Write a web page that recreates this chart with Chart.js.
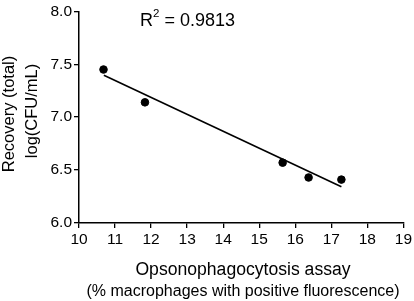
<!DOCTYPE html>
<html>
<head>
<meta charset="utf-8">
<script src="https://cdn.jsdelivr.net/npm/chart.js@4/dist/chart.umd.min.js"></script>
<style>
  html, body { margin: 0; padding: 0; background: #fff; }
  #wrap { width: 414px; height: 301px; }
</style>
</head>
<body>
<div id="wrap"><canvas id="myScatter" width="414" height="301"></canvas></div>
<script>
// values
var assayPct = [10.68, 11.83, 15.65, 16.37, 17.28];
var recoveryLog = [7.45, 7.14, 6.57, 6.43, 6.41];
var fitX = [10.69, 17.28];
var fitY = [7.395, 6.343];
var xTicks = [10, 11, 12, 13, 14, 15, 16, 17, 18, 19];
var yTicks = [6.0, 6.5, 7.0, 7.5, 8.0];
var rSquared = '0.9813';

var FONT = "'Liberation Sans', Arial, sans-serif";

var pontos = assayPct.map(function (x, i) { return { x: x, y: recoveryLog[i] }; });
var reta = fitX.map(function (x, i) { return { x: x, y: fitY[i] }; });

// titulos dos eixos e o R2 desenhados na mao
var textos = {
  id: 'textos',
  afterDraw: function (chart) {
    var ctx = chart.ctx;
    ctx.save();
    ctx.fillStyle = '#000';
    ctx.textBaseline = 'middle';
    ctx.textAlign = 'center';

    ctx.font = '17.6px ' + FONT;
    ctx.fillText('Opsonophagocytosis assay', 243, 270);
    ctx.font = '16px ' + FONT;
    ctx.fillText('(% macrophages with positive fluorescence)', 243, 292);

    ctx.save();
    ctx.translate(9, 114);
    ctx.rotate(-Math.PI / 2);
    ctx.font = '16.5px ' + FONT;
    ctx.fillText('Recovery (total)', 0, 0);
    ctx.restore();
    ctx.save();
    ctx.translate(32, 111);
    ctx.rotate(-Math.PI / 2);
    ctx.font = '16.5px ' + FONT;
    ctx.fillText('log(CFU/mL)', 0, 0);
    ctx.restore();

    // R^2
    ctx.textAlign = 'left';
    ctx.font = '18px ' + FONT;
    var x0 = 140;
    ctx.fillText('R', x0, 21);
    var wR = ctx.measureText('R').width;
    ctx.font = '11.5px ' + FONT;
    ctx.fillText('2', x0 + wR, 14);
    var w2 = ctx.measureText('2').width;
    ctx.font = '18px ' + FONT;
    ctx.fillText(' = ' + rSquared, x0 + wR + w2, 21);
    ctx.restore();
  }
};

var ctx = document.getElementById('myScatter').getContext('2d');
var grafico = new Chart(ctx, {
  type: 'scatter',
  data: {
    datasets: [
      {
        label: 'dados',
        data: pontos,
        backgroundColor: '#000',
        borderColor: '#000',
        pointRadius: 3.8,
        pointHoverRadius: 3.8
      },
      {
        label: 'ajuste',
        type: 'line',
        data: reta,
        borderColor: '#000',
        borderWidth: 1.6,
        pointRadius: 0,
        fill: false
      }
    ]
  },
  options: {
    responsive: false,
    animation: false,
    layout: { padding: { left: 0, top: 6, right: 8, bottom: 0 } },
    plugins: { legend: { display: false }, tooltip: { enabled: false } },
    scales: {
      x: {
        type: 'linear',
        min: 10,
        max: 19,
        afterFit: function (s) { s.height = 78; },
        afterBuildTicks: function (s) { s.ticks = xTicks.map(function (v) { return { value: v }; }); },
        grid: { drawOnChartArea: false, drawTicks: true, tickLength: 5, color: '#000', lineWidth: 1.3 },
        border: { color: '#000', width: 1.5 },
        ticks: { color: '#000', font: { family: FONT, size: 15.5 }, padding: 2, maxRotation: 0 }
      },
      y: {
        type: 'linear',
        min: 6,
        max: 8,
        afterFit: function (s) { s.width = 79; },
        afterBuildTicks: function (s) { s.ticks = yTicks.map(function (v) { return { value: v }; }); },
        grid: { drawOnChartArea: false, drawTicks: true, tickLength: 5, color: '#000', lineWidth: 1.3 },
        border: { color: '#000', width: 1.5 },
        ticks: {
          color: '#000',
          font: { family: FONT, size: 15.5 },
          padding: 2,
          callback: function (v) { return Number(v).toFixed(1); }
        }
      }
    }
  },
  plugins: [textos]
});
</script>
</body>
</html>
